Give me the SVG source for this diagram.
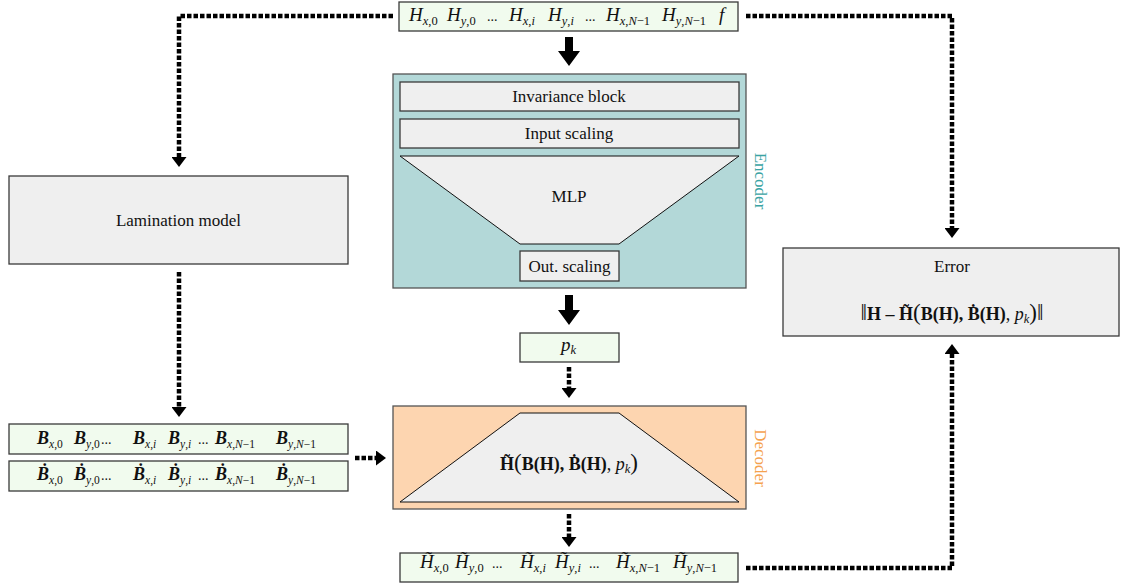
<svg xmlns="http://www.w3.org/2000/svg" width="1122" height="587" viewBox="0 0 1122 587">
<defs>
<style>
.bx{stroke:#3a3a3a;stroke-width:1.3}
.gray{fill:#efefef}
.green{fill:#f1fbee}
.t{font-family:"Liberation Serif",serif;font-size:17px;fill:#111}
.f{font-family:"Liberation Serif",serif;font-size:18px;fill:#111}
.m{font-family:"Liberation Serif",serif;font-size:19px;font-style:italic;fill:#111}
.mb{font-family:"Liberation Serif",serif;font-size:18px;font-style:italic;font-weight:bold;fill:#111}
.s{font-size:12.5px;font-weight:normal}
.mb .s{font-size:11.5px}
.up{font-style:normal}
.dots{font-family:"Liberation Serif",serif;font-size:14px;fill:#111}
.big{font-size:23px;font-weight:normal;font-style:normal}
.dash{fill:none;stroke:#000;stroke-width:4.5;stroke-dasharray:4.5 2;marker-end:url(#ah)}
.trap{fill:#efefef;stroke:#111;stroke-width:1}
</style>
<marker id="ah" markerUnits="userSpaceOnUse" markerWidth="10" markerHeight="15" refX="0" refY="7.5" orient="auto">
<path d="M0,0 L10,7.5 L0,15 Z" fill="#000"/>
</marker>
</defs>
<rect width="1122" height="587" fill="#fff"/>

<g id="input-H">
<rect class="bx green" x="399" y="2" width="339" height="29"/>
<text class="m" x="409" y="21">H<tspan class="s" dy="4">x<tspan class="up">,0</tspan></tspan></text>
<text class="m" x="447" y="21">H<tspan class="s" dy="4">y<tspan class="up">,0</tspan></tspan></text>
<text class="dots" x="487" y="21">...</text>
<text class="m" x="509" y="21">H<tspan class="s" dy="4">x<tspan class="up">,</tspan>i</tspan></text>
<text class="m" x="548" y="21">H<tspan class="s" dy="4">y<tspan class="up">,</tspan>i</tspan></text>
<text class="dots" x="585" y="21">...</text>
<text class="m" x="606" y="21">H<tspan class="s" dy="4">x<tspan class="up">,</tspan>N<tspan class="up">−1</tspan></tspan></text>
<text class="m" x="662" y="21">H<tspan class="s" dy="4">y<tspan class="up">,</tspan>N<tspan class="up">−1</tspan></tspan></text>
<text class="m" x="719" y="21">f</text>
</g>

<g id="encoder">
<rect x="393" y="74" width="353" height="214" fill="#b3d8d8" stroke="#555" stroke-width="1.3"/>
<rect class="bx gray" x="400" y="82" width="339" height="29"/>
<text class="t" x="569" y="102" text-anchor="middle">Invariance block</text>
<rect class="bx gray" x="400" y="119" width="339" height="29"/>
<text class="t" x="569" y="139" text-anchor="middle">Input scaling</text>
<polygon class="trap" points="400,156 739,156 619,244 520,244"/>
<text class="t" x="569" y="202" text-anchor="middle">MLP</text>
<rect class="bx gray" x="520" y="251" width="99" height="30"/>
<text class="t" x="569.5" y="272" text-anchor="middle">Out. scaling</text>
<text class="t" transform="translate(755,181) rotate(90)" text-anchor="middle" style="fill:#3aa3a3">Encoder</text>
</g>

<g id="pk">
<rect class="bx green" x="520" y="333" width="99" height="29"/>
<text class="m" x="561" y="351">p<tspan class="s" dy="3">k</tspan></text>
</g>

<g id="decoder">
<rect x="393" y="406" width="353" height="103" fill="#fdd5b0" stroke="#555" stroke-width="1.3"/>
<polygon class="trap" points="520,413 619,413 739,502 400,502"/>
<text class="f" x="569" y="470" text-anchor="middle"><tspan font-weight="bold">H&#x303;</tspan><tspan class="big">(</tspan><tspan font-weight="bold">B(H), &#x1E02;(H)</tspan>, <tspan font-style="italic">p</tspan><tspan font-style="italic" class="s" dy="3">k</tspan><tspan class="big" dy="-3">)</tspan></text>
<text class="t" transform="translate(755,458) rotate(90)" text-anchor="middle" style="fill:#f5a24f">Decoder</text>
</g>

<g id="lamination">
<rect class="bx gray" x="9" y="176" width="339" height="88"/>
<text class="t" x="178.5" y="226" text-anchor="middle">Lamination model</text>
</g>

<g id="B">
<rect class="bx green" x="9" y="424" width="339" height="30"/>
<text class="mb" x="37" y="444">B<tspan class="s" dy="4">x<tspan class="up">,0</tspan></tspan></text>
<text class="mb" x="74" y="444">B<tspan class="s" dy="4">y<tspan class="up">,0</tspan></tspan></text>
<text class="dots" x="101" y="444">...</text>
<text class="mb" x="133" y="444">B<tspan class="s" dy="4">x<tspan class="up">,</tspan>i</tspan></text>
<text class="mb" x="168" y="444">B<tspan class="s" dy="4">y<tspan class="up">,</tspan>i</tspan></text>
<text class="dots" x="198" y="444">...</text>
<text class="mb" x="215" y="444">B<tspan class="s" dy="4">x<tspan class="up">,</tspan>N<tspan class="up">−1</tspan></tspan></text>
<text class="mb" x="276" y="444">B<tspan class="s" dy="4">y<tspan class="up">,</tspan>N<tspan class="up">−1</tspan></tspan></text>
</g>

<g id="Bdot">
<rect class="bx green" x="9" y="461" width="339" height="30"/>
<text class="mb" x="37" y="480">&#x1E02;<tspan class="s" dy="4">x<tspan class="up">,0</tspan></tspan></text>
<text class="mb" x="74" y="480">&#x1E02;<tspan class="s" dy="4">y<tspan class="up">,0</tspan></tspan></text>
<text class="dots" x="101" y="480">...</text>
<text class="mb" x="133" y="480">&#x1E02;<tspan class="s" dy="4">x<tspan class="up">,</tspan>i</tspan></text>
<text class="mb" x="168" y="480">&#x1E02;<tspan class="s" dy="4">y<tspan class="up">,</tspan>i</tspan></text>
<text class="dots" x="198" y="480">...</text>
<text class="mb" x="215" y="480">&#x1E02;<tspan class="s" dy="4">x<tspan class="up">,</tspan>N<tspan class="up">−1</tspan></tspan></text>
<text class="mb" x="276" y="480">&#x1E02;<tspan class="s" dy="4">y<tspan class="up">,</tspan>N<tspan class="up">−1</tspan></tspan></text>
</g>

<g id="output-H">
<rect class="bx green" x="400" y="553" width="338" height="29"/>
<text class="m" x="420" y="568">H&#x303;<tspan class="s" dy="4">x<tspan class="up">,0</tspan></tspan></text>
<text class="m" x="455" y="568">H&#x303;<tspan class="s" dy="4">y<tspan class="up">,0</tspan></tspan></text>
<text class="dots" x="492" y="568">...</text>
<text class="m" x="520" y="568">H&#x303;<tspan class="s" dy="4">x<tspan class="up">,</tspan>i</tspan></text>
<text class="m" x="555" y="568">H&#x303;<tspan class="s" dy="4">y<tspan class="up">,</tspan>i</tspan></text>
<text class="dots" x="589" y="568">...</text>
<text class="m" x="616" y="568">H&#x303;<tspan class="s" dy="4">x<tspan class="up">,</tspan>N<tspan class="up">−1</tspan></tspan></text>
<text class="m" x="673" y="568">H&#x303;<tspan class="s" dy="4">y<tspan class="up">,</tspan>N<tspan class="up">−1</tspan></tspan></text>
</g>

<g id="error">
<rect class="bx gray" x="783" y="248" width="336" height="88"/>
<text class="t" x="952" y="272" text-anchor="middle">Error</text>
<text class="f" x="952" y="320" text-anchor="middle"><tspan class="big">‖</tspan><tspan font-weight="bold">H – H&#x303;</tspan><tspan class="big">(</tspan><tspan font-weight="bold">B(H), &#x1E02;(H)</tspan>, <tspan font-style="italic">p</tspan><tspan font-style="italic" class="s" dy="3">k</tspan><tspan class="big" dy="-3">)‖</tspan></text>
</g>

<g id="connectors">
<path class="dash" d="M393,16 H179 V157"/>
<path class="dash" d="M179,272 V407"/>
<path class="dash" d="M355,458 H376"/>
<path class="dash" d="M746,16 H952 V228"/>
<path class="dash" d="M746,568 H952 V354"/>
<path class="dash" d="M569,367 V388"/>
<path class="dash" d="M569,514 V537"/>
<polygon points="565,37 573,37 573,51 580,51 569,66 558,51 565,51" fill="#000"/>
<polygon points="565,295 573,295 573,310 580,310 569,325 558,310 565,310" fill="#000"/>
</g>
</svg>
